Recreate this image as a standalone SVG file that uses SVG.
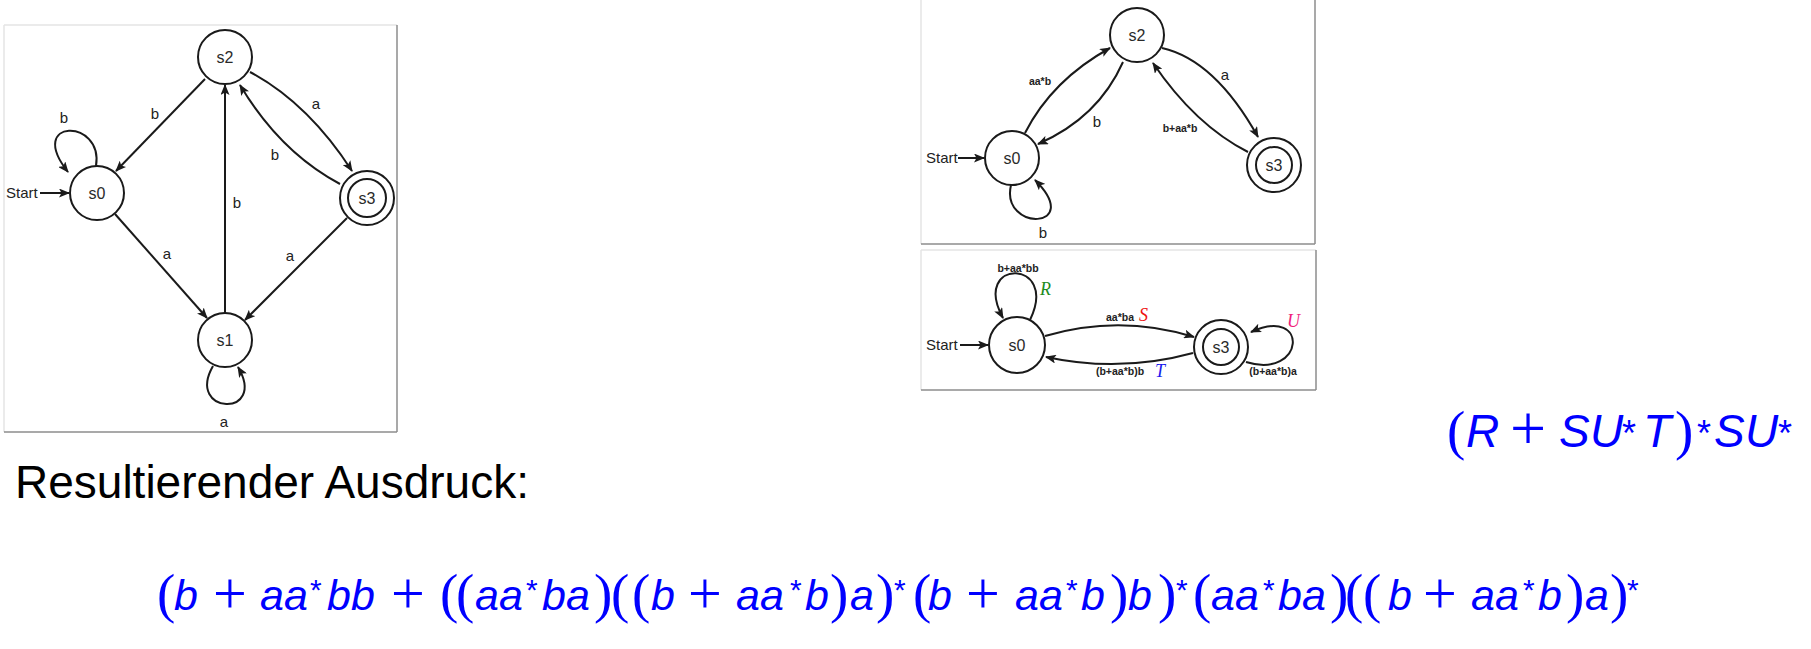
<svg xmlns="http://www.w3.org/2000/svg" width="1811" height="649" viewBox="0 0 1811 649">
  <defs>
    <marker id="arrow" viewBox="0 0 11 9" refX="10" refY="4.5" markerWidth="11" markerHeight="9" markerUnits="userSpaceOnUse" orient="auto">
      <path d="M0,0 L11,4.5 L0,9 L2.5,4.5 z" fill="#1a1a1a"/>
    </marker>
    <style>
      .state { fill: #ffffff; stroke: #1a1a1a; stroke-width: 2; }
      .ring { fill: none; stroke: #1a1a1a; stroke-width: 2; }
      .name { font-family: "Liberation Sans", Arial, sans-serif; font-size: 16px; fill: #2a2a2a; text-anchor: middle; }
      .edge { fill: none; stroke: #1a1a1a; stroke-width: 2; marker-end: url(#arrow); }
      .lbl { font-family: "Liberation Sans", Arial, sans-serif; font-size: 15px; fill: #222; text-anchor: middle; }
      .small { font-family: "Liberation Sans", Arial, sans-serif; font-size: 10.5px; font-weight: bold; fill: #222; text-anchor: middle; }
      .start { font-family: "Liberation Sans", Arial, sans-serif; font-size: 15px; fill: #222; }
      .var { font-family: "Liberation Serif", "Times New Roman", serif; font-style: italic; font-size: 18px; }
      .frame-light { stroke: #e4e4e4; stroke-width: 1.5; }
      .frame-dark { stroke: #8c8c8c; stroke-width: 1.5; }
      .math { font-family: "Liberation Sans", Arial, sans-serif; fill: #0000ff; }
      .it { font-style: italic; font-size: 43px; }
      .big { font-style: italic; font-size: 46px; }
      .par { font-family: "Liberation Serif", "Times New Roman", serif; font-size: 55px; font-style: normal; }
      .op { font-family: "Liberation Serif", "Times New Roman", serif; font-size: 60px; font-style: normal; }
      .sup { font-size: 30px; font-style: normal; }
    </style>
  </defs>

  <rect width="1811" height="649" fill="#ffffff"/>

  <!-- panel frames -->
  <g id="frames">
    <line class="frame-light" x1="4" y1="25" x2="397" y2="25"/>
    <line class="frame-light" x1="4" y1="25" x2="4" y2="432"/>
    <line class="frame-dark" x1="397" y1="25" x2="397" y2="432"/>
    <line class="frame-dark" x1="4" y1="432" x2="397" y2="432"/>

    <line class="frame-light" x1="921" y1="0" x2="921" y2="244"/>
    <line class="frame-dark" x1="1315" y1="0" x2="1315" y2="244"/>
    <line class="frame-dark" x1="921" y1="244" x2="1315" y2="244"/>

    <line class="frame-light" x1="921" y1="250" x2="1316" y2="250"/>
    <line class="frame-light" x1="921" y1="250" x2="921" y2="390"/>
    <line class="frame-dark" x1="1316" y1="250" x2="1316" y2="390"/>
    <line class="frame-dark" x1="921" y1="390" x2="1316" y2="390"/>
  </g>

  <!-- connectors -->
  <g id="connectors">
    <!-- full automaton -->
    <line class="edge" x1="40" y1="193" x2="69" y2="193"/>
    <path class="edge" d="M96,166 C104,118 25,118 68,172"/>
    <line class="edge" x1="205" y1="79" x2="116" y2="171"/>
    <line class="edge" x1="115" y1="214" x2="207" y2="318"/>
    <line class="edge" x1="225" y1="313" x2="225" y2="85"/>
    <path class="edge" d="M250,72 Q308,103 352,171"/>
    <path class="edge" d="M340,184 Q280,152 240,85"/>
    <line class="edge" x1="347" y1="218" x2="245" y2="320"/>
    <path class="edge" d="M213,366 C185,415 268,418 238,367"/>

    <!-- s1 eliminated -->
    <line class="edge" x1="958" y1="158" x2="984" y2="158"/>
    <path class="edge" d="M1025,133 Q1052,80 1110,48"/>
    <path class="edge" d="M1123,62 Q1098,118 1038,144"/>
    <path class="edge" d="M1162,48 Q1215,60 1258,137"/>
    <path class="edge" d="M1248,152 Q1195,125 1153,63"/>
    <path class="edge" d="M1011,185 C1000,232 1085,230 1035,180"/>

    <!-- s2 eliminated -->
    <line class="edge" x1="960" y1="345" x2="988" y2="345"/>
    <path class="edge" d="M1030,320 C1060,258 970,258 1003,318"/>
    <path class="edge" d="M1045,336 Q1120,314 1194,337"/>
    <path class="edge" d="M1193,353 Q1120,373 1046,357"/>
    <path class="edge" d="M1246,362 C1305,380 1310,305 1251,332"/>
  </g>

  <!-- nodes: full automaton -->
  <g id="a-s2"><circle class="state" cx="225" cy="57" r="27"/><text class="name" x="225" y="62.5">s2</text></g>
  <g id="a-s0"><circle class="state" cx="97" cy="193" r="27"/><text class="name" x="97" y="198.5">s0</text></g>
  <g id="a-s1"><circle class="state" cx="225" cy="340" r="27"/><text class="name" x="225" y="345.5">s1</text></g>
  <g id="a-s3"><circle class="state" cx="367" cy="198" r="27"/><circle class="ring" cx="367" cy="198" r="19"/><text class="name" x="367" y="203.5">s3</text></g>

  <!-- nodes: s1 eliminated -->
  <g id="b-s2"><circle class="state" cx="1137" cy="35" r="27"/><text class="name" x="1137" y="40.5">s2</text></g>
  <g id="b-s0"><circle class="state" cx="1012" cy="158" r="27"/><text class="name" x="1012" y="163.5">s0</text></g>
  <g id="b-s3"><circle class="state" cx="1274" cy="165" r="27"/><circle class="ring" cx="1274" cy="165" r="18"/><text class="name" x="1274" y="170.5">s3</text></g>

  <!-- nodes: s2 eliminated -->
  <g id="c-s0"><circle class="state" cx="1017" cy="345" r="28"/><text class="name" x="1017" y="350.5">s0</text></g>
  <g id="c-s3"><circle class="state" cx="1221" cy="347" r="27"/><circle class="ring" cx="1221" cy="347" r="18"/><text class="name" x="1221" y="352.5">s3</text></g>

  <!-- edge labels -->
  <g id="labels">
    <text class="start" x="6" y="198">Start</text>
    <text class="lbl" x="64" y="123">b</text>
    <text class="lbl" x="155" y="119">b</text>
    <text class="lbl" x="167" y="259">a</text>
    <text class="lbl" x="237" y="208">b</text>
    <text class="lbl" x="316" y="109">a</text>
    <text class="lbl" x="275" y="160">b</text>
    <text class="lbl" x="290" y="261">a</text>
    <text class="lbl" x="224" y="427">a</text>

    <text class="start" x="926" y="163">Start</text>
    <text class="small" x="1040" y="85">aa*b</text>
    <text class="lbl" x="1097" y="127">b</text>
    <text class="lbl" x="1225" y="80">a</text>
    <text class="small" x="1180" y="132">b+aa*b</text>
    <text class="lbl" x="1043" y="238">b</text>

    <text class="start" x="926" y="350">Start</text>
    <text class="small" x="1018" y="272">b+aa*bb</text>
    <text class="var" x="1040" y="295" fill="#1e8c1e">R</text>
    <text class="small" x="1120" y="321">aa*ba</text>
    <text class="var" x="1139" y="321" fill="#ee1111">S</text>
    <text class="small" x="1120" y="375">(b+aa*b)b</text>
    <text class="var" x="1155" y="377" fill="#1a1aee">T</text>
    <text class="small" x="1273" y="375">(b+aa*b)a</text>
    <text class="var" x="1287" y="327" fill="#f0207a">U</text>
  </g>

  <!-- state-elimination formula -->
  <text class="math" y="447">
    <tspan class="par" x="1447" y="449">(</tspan>
    <tspan class="big" x="1466" y="447">R</tspan>
    <tspan class="op" style="font-size:64px" x="1510" y="450">+</tspan>
    <tspan class="big" x="1559" y="447">S</tspan>
    <tspan class="big" x="1590" y="447">U</tspan>
    <tspan class="sup" style="font-size:36px" x="1622" y="446">*</tspan>
    <tspan class="big" x="1643" y="447">T</tspan>
    <tspan class="par" x="1675" y="449">)</tspan>
    <tspan class="sup" style="font-size:36px" x="1697" y="446">*</tspan>
    <tspan class="big" x="1714" y="447">S</tspan>
    <tspan class="big" x="1745" y="447">U</tspan>
    <tspan class="sup" style="font-size:36px" x="1778" y="446">*</tspan>
  </text>

  <text x="15" y="498" font-family="'Liberation Sans', Arial, sans-serif" font-size="46" fill="#000">Resultierender Ausdruck:</text>

  <!-- resulting regular expression -->
  <text class="math" y="610">
    <tspan class="par" x="157" y="612">(</tspan>
    <tspan class="it" x="174" y="610">b</tspan>
    <tspan class="op" x="213" y="613">+</tspan>
    <tspan class="it" x="260" y="610">aa</tspan>
    <tspan class="sup" x="310" y="600">*</tspan>
    <tspan class="it" x="327" y="610">bb</tspan>
    <tspan class="op" x="391" y="613">+</tspan>
    <tspan class="par" x="440" y="612">(</tspan>
    <tspan class="par" x="456" y="612">(</tspan>
    <tspan class="it" x="475" y="610">aa</tspan>
    <tspan class="sup" x="526" y="600">*</tspan>
    <tspan class="it" x="542" y="610">ba</tspan>
    <tspan class="par" x="594" y="612">)</tspan>
    <tspan class="par" x="611" y="612">(</tspan>
    <tspan class="par" x="632" y="612">(</tspan>
    <tspan class="it" x="651" y="610">b</tspan>
    <tspan class="op" x="688" y="613">+</tspan>
    <tspan class="it" x="736" y="610">aa</tspan>
    <tspan class="sup" x="790" y="600">*</tspan>
    <tspan class="it" x="805" y="610">b</tspan>
    <tspan class="par" x="830" y="612">)</tspan>
    <tspan class="it" x="850" y="610">a</tspan>
    <tspan class="par" x="876" y="612">)</tspan>
    <tspan class="sup" x="894" y="600">*</tspan>
    <tspan class="par" x="913" y="612">(</tspan>
    <tspan class="it" x="928" y="610">b</tspan>
    <tspan class="op" x="966" y="613">+</tspan>
    <tspan class="it" x="1015" y="610">aa</tspan>
    <tspan class="sup" x="1066" y="600">*</tspan>
    <tspan class="it" x="1081" y="610">b</tspan>
    <tspan class="par" x="1110" y="612">)</tspan>
    <tspan class="it" x="1128" y="610">b</tspan>
    <tspan class="par" x="1158" y="612">)</tspan>
    <tspan class="sup" x="1176" y="600">*</tspan>
    <tspan class="par" x="1193" y="612">(</tspan>
    <tspan class="it" x="1211" y="610">aa</tspan>
    <tspan class="sup" x="1263" y="600">*</tspan>
    <tspan class="it" x="1278" y="610">ba</tspan>
    <tspan class="par" x="1330" y="612">)</tspan>
    <tspan class="par" x="1345" y="612">(</tspan>
    <tspan class="par" x="1363" y="612">(</tspan>
    <tspan class="it" x="1388" y="610">b</tspan>
    <tspan class="op" x="1423" y="613">+</tspan>
    <tspan class="it" x="1471" y="610">aa</tspan>
    <tspan class="sup" x="1523" y="600">*</tspan>
    <tspan class="it" x="1538" y="610">b</tspan>
    <tspan class="par" x="1566" y="612">)</tspan>
    <tspan class="it" x="1585" y="610">a</tspan>
    <tspan class="par" x="1610" y="612">)</tspan>
    <tspan class="sup" x="1627" y="600">*</tspan>
  </text>
</svg>
